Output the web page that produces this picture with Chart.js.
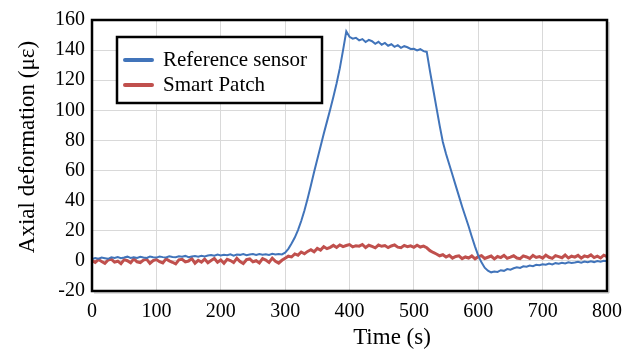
<!DOCTYPE html>
<html>
<head>
<meta charset="utf-8">
<script src="https://cdn.jsdelivr.net/npm/chart.js@4"></script>
<style>
  html, body { margin: 0; padding: 0; background: #fff; }
</style>
</head>
<body>
<canvas id="chart" width="639" height="349"></canvas>
<script>
// sampling times (s)
const TIME = [
  0, 5, 10, 15, 20, 25, 30, 35, 40, 45, 50, 55, 60, 65, 70, 75, 80, 85, 90, 95,
  100, 105, 110, 115, 120, 125, 130, 135, 140, 145, 150, 155, 160, 165, 170, 175, 180, 185, 190, 195,
  200, 205, 210, 215, 220, 225, 230, 235, 240, 245, 250, 255, 260, 265, 270, 275, 280, 285, 290, 295,
  300, 305, 310, 315, 320, 325, 330, 335, 340, 345, 350, 355, 360, 365, 370, 375, 380, 385, 390, 395,
  400, 405, 410, 415, 420, 425, 430, 435, 440, 445, 450, 455, 460, 465, 470, 475, 480, 485, 490, 495,
  500, 505, 510, 515, 520, 525, 530, 535, 540, 545, 550, 555, 560, 565, 570, 575, 580, 585, 590, 595,
  600, 605, 610, 615, 620, 625, 630, 635, 640, 645, 650, 655, 660, 665, 670, 675, 680, 685, 690, 695,
  700, 705, 710, 715, 720, 725, 730, 735, 740, 745, 750, 755, 760, 765, 770, 775, 780, 785, 790, 795,
  800
];

// reference sensor (µε)
const REF_SENSOR = [
  1.3, 1.9, 1.5, 2.2, 1.8, 1.4, 2.4, 1.9, 2.6, 1.8, 2.2, 2.8, 2.0, 2.4, 1.9, 2.7, 2.3, 2.0, 2.9, 2.4,
  2.2, 2.9, 2.5, 2.3, 3.1, 2.6, 2.4, 3.0, 2.7, 3.3, 2.5, 2.9, 3.2, 2.8, 3.4, 3.0, 3.6, 3.9, 3.4, 4.2,
  3.6, 4.1, 3.8, 4.4, 3.5, 4.2, 4.0, 4.6, 3.8, 4.3, 4.5, 3.9, 4.6, 4.1, 4.4, 3.9, 4.7, 4.2, 4.5, 4.3,
  5.5, 8.0, 11.5, 15.5, 20.5, 26.5, 33.5, 41.5, 50.0, 59.0, 67.5, 76.0, 84.5, 92.5, 100.5, 109.0, 118.0, 128.0, 140.0, 152.5,
  148.8, 147.6, 148.2, 146.5, 147.3, 145.4, 146.8, 145.9, 144.2, 145.5, 143.6, 144.8, 142.9, 143.9, 142.2, 143.3, 141.5, 142.6, 141.9, 140.8,
  140.9, 139.8, 140.6, 139.3, 138.8, 126.0, 114.0, 102.0, 90.0, 79.0, 71.0, 64.0, 57.0, 50.0, 43.0, 36.0, 29.5, 23.0, 16.0, 9.5,
  3.5, -1.0, -4.5, -6.5, -7.6, -7.0, -7.3, -6.2, -6.6, -5.4, -5.8, -4.9, -4.3, -4.7, -3.6, -3.9, -3.1, -3.5, -2.6, -2.9,
  -2.2, -2.6, -1.8, -2.3, -1.5, -1.9, -1.2, -1.7, -0.9, -1.4, -1.1, -0.6, -1.2, -0.4, -0.9, -0.3, -0.8, -0.1, -0.6, 0.1,
  -0.3
];

// smart patch (µε)
const SMART_PATCH = [
  0.3, -1.0, 0.9, -0.4, -1.6, 0.6, 1.2, -0.8, -0.2, -1.9, 0.8, 0.1, -1.3, 1.4, -0.6, -1.1, 0.5, 1.0, -1.7, 0.2,
  0.9, -0.5, -1.4, 1.3, 0.0, -0.9, -2.0, 0.7, 1.1, -0.7, -0.1, 1.5, -1.5, 0.4, -0.8, 1.2, -1.2, 0.3, 1.6, -0.9,
  0.6, -1.6, 1.0, 0.2, -1.1, 1.7, -0.4, -1.8, 0.8, 1.3, -0.6, 0.1, -1.4, 1.5, 0.5, -1.0, 1.8, -0.3, -1.5, 0.4,
  1.8, 3.1, 2.6, 4.6, 3.8, 5.9, 4.7, 6.3, 7.4, 6.0, 8.3, 7.2, 9.4, 8.1, 9.0, 10.3, 8.9, 10.6, 9.5, 10.2,
  10.8, 9.3, 10.1, 9.8, 10.9, 8.9, 10.4, 9.6, 8.7, 10.5, 9.7, 10.2, 8.8, 9.9, 10.6, 9.1, 8.8, 10.3, 9.4, 10.0,
  9.0, 10.4, 9.2, 9.8, 8.7, 6.8, 5.6, 4.6, 3.4, 4.1, 2.6, 3.7, 1.8, 2.9, 3.4, 1.5, 2.6, 1.9, 3.3, 1.4,
  2.8, 3.5, 1.6, 2.4, 3.2, 1.3, 2.9, 2.2, 3.7, 1.7, 2.5, 3.4, 1.9, 1.5, 3.3, 2.6, 1.6, 3.6, 2.3, 2.9,
  1.8, 3.8, 2.4, 1.7, 3.5, 2.8, 2.1, 3.9, 1.9, 3.1, 2.5, 3.7, 1.8, 3.3, 2.7, 4.0, 2.2, 3.1, 1.9, 3.8,
  2.9
];

const FONT = 'Liberation Serif, Times New Roman, serif';

function toPoints(vals) {
  return vals.map((v, i) => ({ x: TIME[i], y: v }));
}

// frame, axis titles and the boxed legend inside the plot
const decorPlugin = {
  id: 'decor',
  afterDraw(chart) {
    const { ctx, chartArea: a } = chart;
    ctx.save();

    // plot frame (with a faint drop shadow like the original)
    ctx.strokeStyle = '#bdbdbd';
    ctx.lineWidth = 1;
    ctx.beginPath();
    ctx.moveTo(a.right + 2, a.top + 2);
    ctx.lineTo(a.right + 2, a.bottom + 2);
    ctx.lineTo(a.left + 2, a.bottom + 2);
    ctx.stroke();
    ctx.strokeStyle = '#000';
    ctx.lineWidth = 2.5;
    ctx.strokeRect(a.left, a.top, a.right - a.left, a.bottom - a.top);

    // axis titles
    ctx.fillStyle = '#000';
    ctx.font = '23px ' + FONT;
    ctx.textAlign = 'center';
    ctx.textBaseline = 'middle';
    ctx.fillText('Time (s)', 392, 338);
    ctx.save();
    ctx.translate(28, 147);
    ctx.rotate(-Math.PI / 2);
    ctx.fillText('Axial deformation (\u03bc\u03b5)', 0, 0);
    ctx.restore();

    // legend box
    ctx.fillStyle = '#fff';
    ctx.fillRect(117, 37, 205, 66);
    ctx.strokeStyle = '#000';
    ctx.lineWidth = 2.5;
    ctx.strokeRect(117, 37, 205, 66);
    ctx.font = '21px ' + FONT;
    chart.data.datasets.forEach((ds, i) => {
      const y = 60 + i * 25;
      ctx.strokeStyle = ds.borderColor;
      ctx.lineWidth = 4;
      ctx.lineCap = 'round';
      ctx.beginPath();
      ctx.moveTo(125, y);
      ctx.lineTo(152, y);
      ctx.stroke();
      ctx.fillStyle = '#000';
      ctx.textAlign = 'left';
      ctx.fillText(ds.label, 163, y);
    });

    ctx.restore();
  }
};

new Chart(document.getElementById('chart'), {
  type: 'line',
  data: {
    datasets: [
      { label: 'Reference sensor', data: toPoints(REF_SENSOR),
        borderColor: '#4174BA', borderWidth: 2, pointRadius: 0, tension: 0 },
      { label: 'Smart Patch', data: toPoints(SMART_PATCH),
        borderColor: '#C0504D', borderWidth: 3, pointRadius: 0, tension: 0 },
    ],
  },
  options: {
    responsive: false,
    animation: false,
    layout: { padding: { left: 0, top: 20, right: 32, bottom: 0 } },
    plugins: { legend: { display: false }, tooltip: { enabled: false } },
    scales: {
      x: {
        type: 'linear', min: 0, max: 800,
        ticks: { stepSize: 100, color: '#000', font: { family: FONT, size: 20 }, padding: 9, maxRotation: 0 },
        grid: { color: '#d9d9d9', drawTicks: false },
        border: { display: false },
        afterFit(s) { s.height = 58; },
      },
      y: {
        min: -20, max: 160,
        ticks: { stepSize: 20, color: '#000', font: { family: FONT, size: 20 }, padding: 7 },
        grid: { color: '#d9d9d9', drawTicks: false },
        border: { display: false },
        afterFit(s) { s.width = 92; },
      },
    },
  },
  plugins: [decorPlugin],
});
</script>
</body>
</html>
